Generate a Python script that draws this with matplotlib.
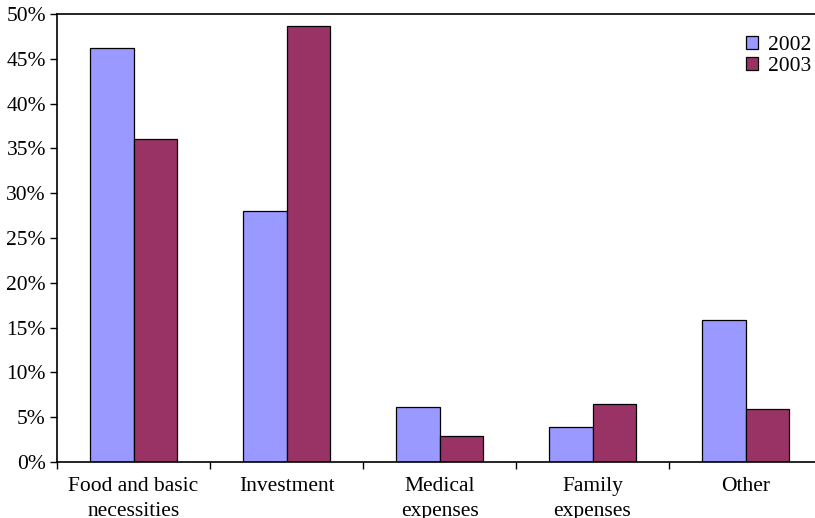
import numpy as np
import matplotlib
matplotlib.use("Agg")
import matplotlib.pyplot as plt
from matplotlib.ticker import FuncFormatter

# categories and shares (percent)
categories = ["Food and basic\nnecessities", "Investment", "Medical\nexpenses",
              "Family\nexpenses", "Other"]
share_2002 = [46.2, 28.0, 6.1, 3.9, 15.8]
share_2003 = [36.1, 48.7, 2.9, 6.5, 5.9]

plt.rcParams["font.family"] = ["Liberation Serif", "DejaVu Serif"]

fig = plt.figure(figsize=(8.15, 5.18), dpi=100)
ax = fig.add_axes([57 / 815, 1 - 462 / 518, 765 / 815, 448 / 518])

x = np.arange(len(categories))
w = 0.285
ax.bar(x - w / 2, share_2002, w, color="#9999FF", edgecolor="black", linewidth=0.9, label="2002")
ax.bar(x + w / 2, share_2003, w, color="#993366", edgecolor="black", linewidth=0.9, label="2003")

ax.set_xlim(-0.5, len(categories) - 0.5)
ax.set_ylim(0, 50)
ax.set_yticks(np.arange(0, 51, 5))
ax.yaxis.set_major_formatter(FuncFormatter(lambda v, p: f"{v:.0f}%"))

# category labels sit between boundary ticks
ax.set_xticks(np.arange(-0.5, len(categories), 1.0))
ax.set_xticklabels([])
ax.set_xticks(x, minor=True)
ax.set_xticklabels(categories, minor=True, fontsize=15.5, linespacing=1.4)
ax.tick_params(axis="x", which="minor", length=0, pad=11)
ax.tick_params(axis="x", which="major", length=5, direction="out", width=1)
ax.tick_params(axis="y", length=5, direction="out", width=1, labelsize=15.5, pad=3)

for s in ["left", "bottom", "top"]:
    ax.spines[s].set_linewidth(1.2)
ax.spines["right"].set_visible(False)

fig.legend(loc="upper left", bbox_to_anchor=(746 / 815, 1 - 36 / 518), frameon=False,
           fontsize=15.5, handlelength=0.55, handleheight=0.55, handletextpad=0.45,
           labelspacing=0.1, borderaxespad=0, borderpad=0)

fig.savefig("out.png", dpi=100)
